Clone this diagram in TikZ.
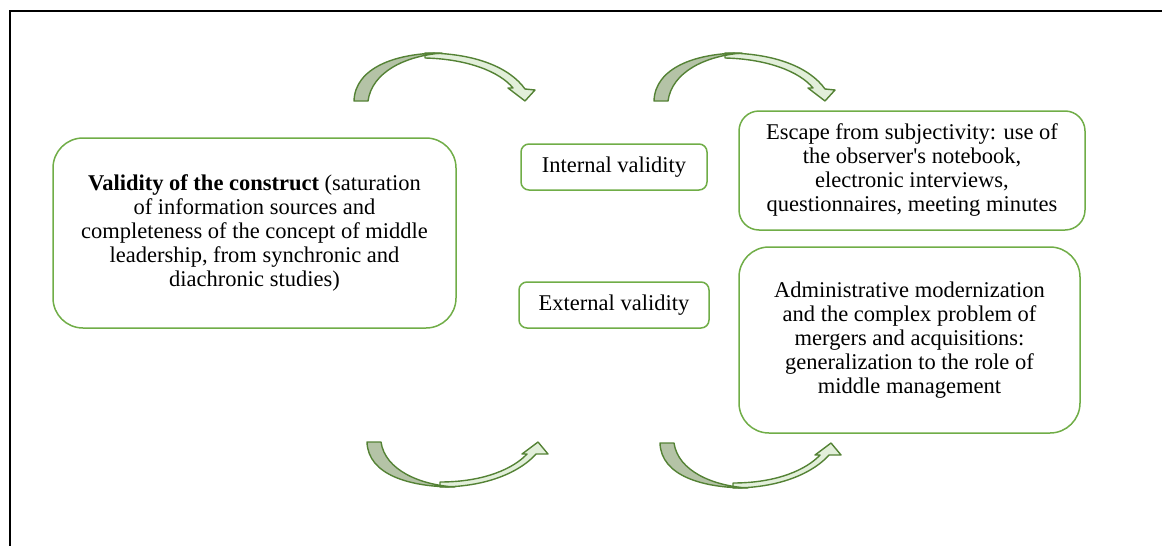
\documentclass[tikz,border=0pt]{standalone}
\usepackage{fontspec}
\setmainfont{Liberation Serif}
\definecolor{boxgreen}{HTML}{70AD47}
\definecolor{arrowline}{HTML}{548235}
\definecolor{arrowdark}{HTML}{B4C3A6}
\definecolor{arrowlight}{HTML}{E2EFDA}
\tikzset{
  vbox/.style={draw=boxgreen, line width=1.5pt, fill=white, align=center,
    font=\fontsize{22.5}{24}\selectfont, inner sep=0pt},
  shadepart/.style={draw=arrowline, line width=1.4pt, fill=arrowdark, line join=round},
  litepart/.style={draw=arrowline, line width=1.4pt, fill=arrowlight, line join=round},
  frameline/.style={draw=black, line width=2pt}
}
\begin{document}
\begin{tikzpicture}[x=1pt, y=-1pt]
\useasboundingbox (0,0) rectangle (1162,546);

% open frame: top and left edges
\coordinate (fbl) at (10,546);
\coordinate (ftl) at (10,11);
\coordinate (ftr) at (1162,11);
\draw[frameline] (fbl) -- (ftl) -- (ftr);

% boxes
\node[vbox, minimum width=403pt, minimum height=190pt, rounded corners=30pt]
  (construct) at (254.5,233)
  {\textbf{Validity of the construct} (saturation\\
   of information sources and\\
   completeness of the concept of middle\\
   leadership, from synchronic and\\
   diachronic studies)};
\node[vbox, minimum width=186pt, minimum height=46pt, rounded corners=8pt]
  (internal) at (614,167) {Internal validity};
\node[vbox, minimum width=190pt, minimum height=46pt, rounded corners=8pt]
  (external) at (614,305) {External validity};
\node[vbox, minimum width=346pt, minimum height=119pt, rounded corners=20pt]
  (escape) at (912,170.5)
  {Escape from subjectivity: use of\\
   the observer\textquotesingle s notebook,\\
   electronic interviews,\\
   questionnaires, meeting minutes};
\node[vbox, minimum width=341pt, minimum height=186pt, rounded corners=30pt]
  (admin) at (909.5,340)
  {Administrative modernization\\
   and the complex problem of\\
   mergers and acquisitions:\\
   generalization to the role of\\
   middle management};

% curved arrows over the top
\foreach \dx in {0,300}{
  \begin{scope}[xshift=\dx]
    \path[litepart] (425,53) .. controls (476,53) and (510,68) .. (525,89)
      -- (535,90) -- (525,101) -- (508,88) -- (513,88)
      .. controls (500,72) and (468,59) .. (425,58) -- cycle;
    \path[shadepart] (354,101) .. controls (355,68) and (395,53) .. (442,53)
      .. controls (405,56) and (372,72) .. (368,101) -- cycle;
  \end{scope}
}

% curved arrows underneath
\foreach \dx/\dy in {0/0,293/1}{
  \begin{scope}[xshift=\dx, yshift=-\dy]
    \path[litepart] (440,487) .. controls (490,487) and (522,470) .. (536,454)
      -- (548,454) -- (538,442) -- (522,454) -- (527,454)
      .. controls (514,468) and (485,482) .. (440,482) -- cycle;
    \path[shadepart] (367,442) .. controls (368,475) and (410,487) .. (455,487)
      .. controls (420,485) and (385,470) .. (381,442) -- cycle;
  \end{scope}
}
\end{tikzpicture}
\end{document}
